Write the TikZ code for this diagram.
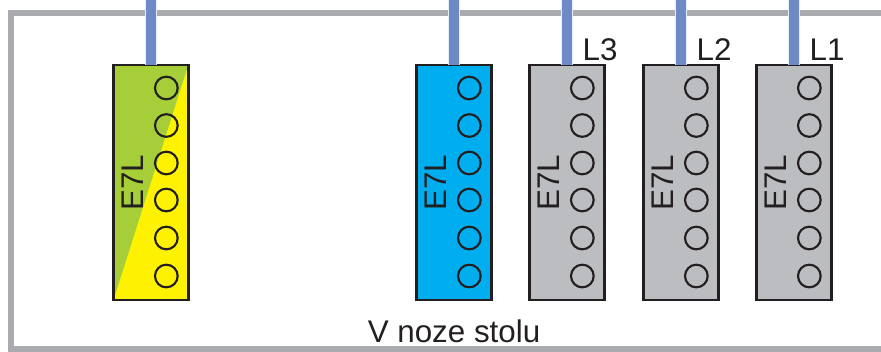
\documentclass[tikz,border=0pt]{standalone}
\usepackage{fontspec}
\setmainfont{Liberation Sans}
\usetikzlibrary{positioning}
\definecolor{framegray}{HTML}{A9ABAE}
\definecolor{wireblue}{HTML}{6C8AC6}
\definecolor{boxgray}{HTML}{BCBDC0}
\definecolor{boxblue}{HTML}{00AEEF}
\definecolor{boxgreen}{HTML}{A6CE39}
\definecolor{boxyellow}{HTML}{FFF200}
\definecolor{inkblack}{HTML}{231F20}
\tikzset{
  terminal/.style={draw=inkblack, line width=1.9pt, minimum width=56pt, minimum height=176pt, inner sep=0pt, outer sep=0pt},
  hole/.style={circle, draw=inkblack, line width=1.6pt, minimum size=17pt, inner sep=0pt},
  wire/.style={wireblue, line width=7.9pt, preaction={draw=white!85!wireblue, line width=9.4pt}},
  lbl/.style={font=\fontsize{23.5pt}{24pt}\selectfont, text=inkblack, inner sep=0pt},
  earth/.style={path picture={\fill[boxyellow] (path picture bounding box.north east) -- (path picture bounding box.south east) -- (path picture bounding box.south west) -- cycle;}}
}
\begin{document}
\begin{tikzpicture}[x=0.75pt, y=-0.75pt]
  \useasboundingbox (0,0) rectangle (881,351);

  % frame
  \draw[framegray, line width=4.6pt] (895,13) -- (11,13) -- (11,349.5) -- (895,349.5);

  % terminals
  \node[terminal, fill=boxgreen, earth] (PE) at (151,182.5) {};
  \node[terminal, fill=boxblue] (N) at (454,182.5) {};
  \node[terminal, fill=boxgray] (C) at (567,182.5) {};
  \node[terminal, fill=boxgray] (B) at (681,182.5) {};
  \node[terminal, fill=boxgray] (A) at (794,182.5) {};

  % holes, label and wire of each terminal
  \foreach \t in {PE,N,C,B,A} {
    \coordinate (\t top) at (\t.north |- 0,0);
    \draw[wire] (\t top) -- (\t.north);
    \foreach \n/\y in {1/-94.5,2/-57,3/-19.5,4/17.5,5/55.5,6/93.5}
      \node[hole] (\t\n) at ([xshift=11.5pt, yshift=-\y*0.75pt]\t.center) {};
    \node[lbl, rotate=90] (\t label) at ([xshift=-14pt]\t.center) {E7L};
  }

  % phases
  \node[lbl, anchor=south west] (L3) at ([xshift=11.5pt, yshift=3pt]C.north) {L3};
  \node[lbl, anchor=south west] (L2) at ([xshift=11.5pt, yshift=3pt]B.north) {L2};
  \node[lbl, anchor=south west] (L1) at ([xshift=11.5pt, yshift=3pt]A.north) {L1};

  \node[lbl] (title) at (454,331) {V noze stolu};
\end{tikzpicture}
\end{document}
